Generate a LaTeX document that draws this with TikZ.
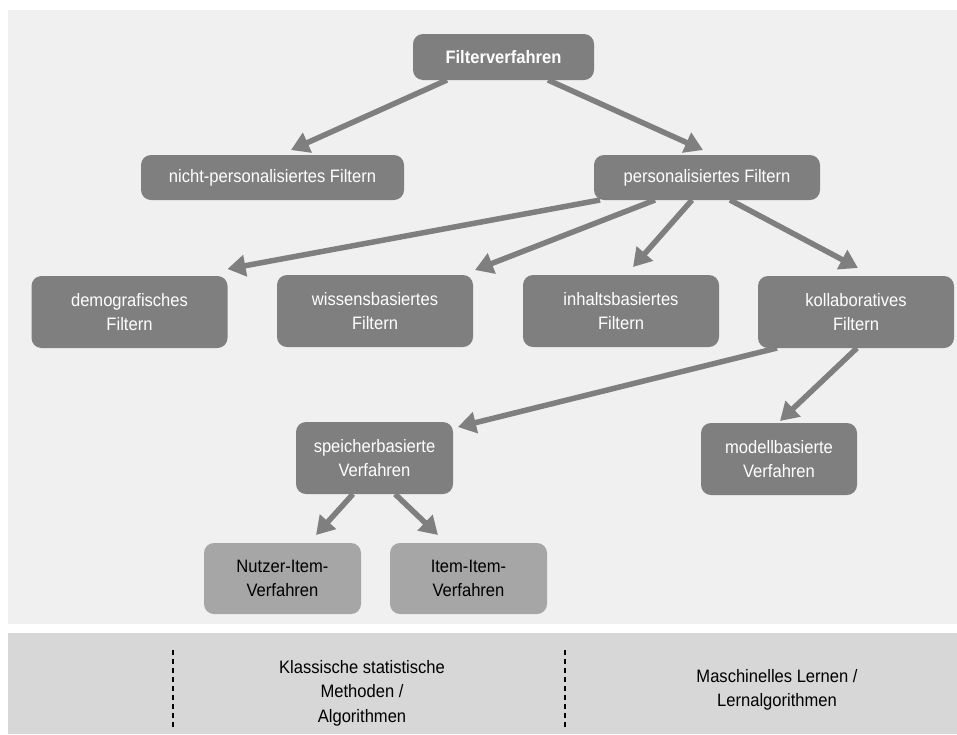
\documentclass[tikz,border=0pt]{standalone}
\usepackage{fontspec}
\setmainfont{Liberation Sans}[FakeStretch=0.92]
\usetikzlibrary{arrows.meta}

\definecolor{boxgray}{RGB}{127,127,127}
\definecolor{lightboxgray}{RGB}{166,166,166}
\definecolor{panelgray}{RGB}{240,240,240}
\definecolor{bandgray}{RGB}{215,215,215}

\begin{document}
\begin{tikzpicture}[x=1pt, y=-1pt,
  every node/.style={font=\fontsize{18}{24.5}\selectfont, align=center, inner sep=0pt, outer sep=0pt},
  box/.style={rounded corners=10pt, fill=boxgray, text=white, minimum width=196pt, minimum height=72pt},
  lightbox/.style={box, fill=lightboxgray, text=black, minimum width=157pt, minimum height=71pt},
  arr/.style={draw=boxgray, line width=5.5pt, -{Triangle[length=18pt,width=21pt]}}]
\useasboundingbox (0,0) rectangle (957,734);
\fill[panelgray] (8,10) rectangle (957,624);
\fill[bandgray] (8,633) rectangle (957,734);

\node[box, minimum width=181pt, minimum height=46pt, font=\fontsize{18}{24.5}\selectfont\bfseries] (fv) at (503.5,57) {Filterverfahren};
\node[box, minimum width=263pt, minimum height=45pt] (np) at (272.5,177.5) {nicht-personalisiertes Filtern};
\node[box, minimum width=226pt, minimum height=45pt] (pf) at (707,177.5) {personalisiertes Filtern};

\node[box] (demo) at (129.5,312) {demografisches\\Filtern};
\node[box] (wiss) at (375,311) {wissensbasiertes\\Filtern};
\node[box] (inh) at (621,311) {inhaltsbasiertes\\Filtern};
\node[box] (kol) at (856,312) {kollaboratives\\Filtern};

\node[box, minimum width=157pt] (spe) at (374.5,458) {speicherbasierte\\Verfahren};
\node[box, minimum width=156pt] (mod) at (779,459) {modellbasierte\\Verfahren};

\node[lightbox] (nut) at (282.5,578.5) {Nutzer-Item-\\Verfahren};
\node[lightbox] (ii) at (468.5,578.5) {Item-Item-\\Verfahren};

\draw[arr] ([xshift=-56.5pt]fv.south) -- ([xshift=18.5pt,yshift=5pt]np.north);
\draw[arr] ([xshift=44.5pt]fv.south) -- ([xshift=-4pt,yshift=5pt]pf.north);
\draw[arr] ([xshift=-107pt]pf.south) -- ([yshift=7pt]demo.north east);
\draw[arr] ([xshift=-52pt]pf.south) -- ([xshift=2pt,yshift=5pt]wiss.north east);
\draw[arr] ([xshift=-15pt]pf.south) -- ([xshift=12pt,yshift=8pt]inh.north);
\draw[arr] ([xshift=23pt]pf.south) -- ([xshift=2pt,yshift=8pt]kol.north);
\draw[arr] ([xshift=-79pt]kol.south) -- ([xshift=5pt,yshift=-5pt]spe.north east);
\draw[arr] ([xshift=1pt]kol.south) -- ([xshift=1pt,yshift=2pt]mod.north);
\draw[arr] ([xshift=-21.5pt]spe.south) -- ([xshift=33.5pt,yshift=8pt]nut.north);
\draw[arr] ([xshift=20.5pt]spe.south) -- ([xshift=-30.5pt,yshift=8pt]ii.north);

\draw[line width=1.8pt, dash pattern=on 5pt off 4pt] (173,650) -- (173,727);
\draw[line width=1.8pt, dash pattern=on 5pt off 4pt] (565,650) -- (565,727);
\node (klass) at (362,693) {Klassische statistische\\Methoden /\\Algorithmen};
\node (ml) at (777,690) {Maschinelles Lernen /\\Lernalgorithmen};
\end{tikzpicture}
\end{document}
